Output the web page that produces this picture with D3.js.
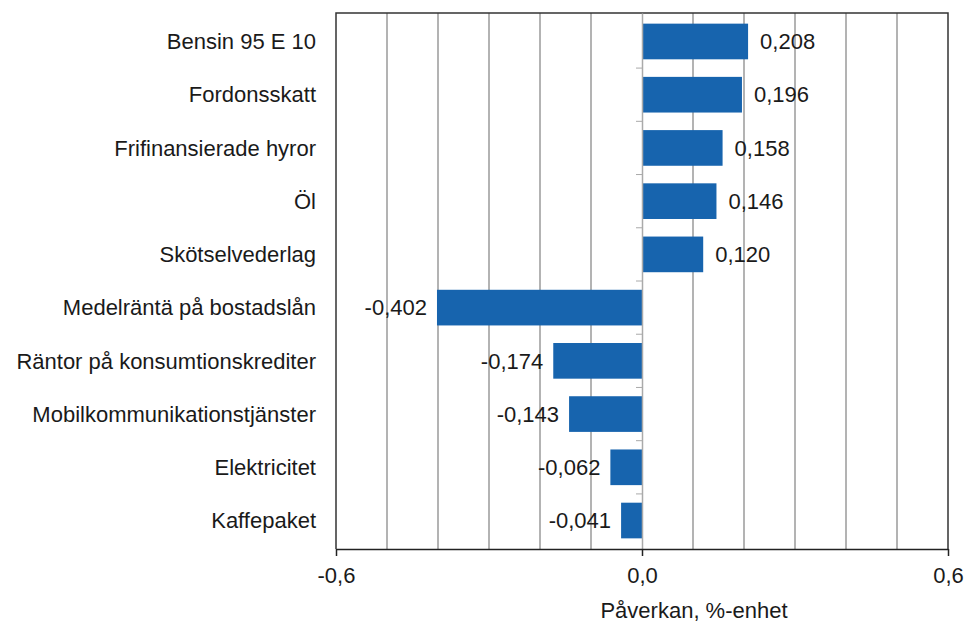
<!DOCTYPE html>
<html>
<head>
<meta charset="utf-8">
<script src="https://cdn.jsdelivr.net/npm/d3@7"></script>
<style>
  body { margin: 0; background: #fff; }
  text { font-family: "Liberation Sans", Arial, sans-serif; fill: #1a1a1a; }
</style>
</head>
<body>
<div id="chart"></div>
<script>
// data
const categories = ['Bensin 95 E 10', 'Fordonsskatt', 'Frifinansierade hyror', 'Öl', 'Skötselvederlag',
    'Medelräntä på bostadslån', 'Räntor på konsumtionskrediter', 'Mobilkommunikationstjänster',
    'Elektricitet', 'Kaffepaket'];
const values = [0.208, 0.196, 0.158, 0.146, 0.120, -0.402, -0.174, -0.143, -0.062, -0.041];
const xTickValues = [-0.6, 0, 0.6];
const xTickLabels = ['-0,6', '0,0', '0,6'];
const xTitle = 'Påverkan, %-enhet';

var margin = {top: 13, right: 20, bottom: 74, left: 336},
    width = 968 - margin.left - margin.right,
    height = 623 - margin.top - margin.bottom;

const fontSize = '22px';

const svg = d3.select('#chart')
    .append('svg')
    .attr('width', 968)
    .attr('height', 623)
    .append('g')
    .attr('transform', 'translate(' + margin.left + ',' + margin.top + ')');

const xScale = d3.scaleLinear()
    .domain([-0.6, 0.6])
    .range([0, width]);

const yScale = d3.scaleBand()
    .domain(categories)
    .range([0, height])
    .paddingInner(0.33)
    .paddingOuter(0.2);

const data = categories.map((c, i) => ({name: c, value: values[i]}));

// grid lines every 0.1
const gridVals = d3.range(-5, 6).map(d => d / 10).filter(d => d !== 0);
svg.append('g')
    .selectAll('line')
    .data(gridVals)
    .join('line')
    .attr('x1', d => xScale(d))
    .attr('x2', d => xScale(d))
    .attr('y1', 0)
    .attr('y2', height)
    .attr('stroke', '#9a9a9a')
    .attr('stroke-width', 1.5);

// frame (left, top, right)
svg.append('path')
    .attr('d', `M0,${height}V0H${width}V${height}`)
    .attr('fill', 'none')
    .attr('stroke', '#333')
    .attr('stroke-width', 1.5);

// bars
svg.append('g')
    .selectAll('rect')
    .data(data)
    .join('rect')
    .attr('x', d => xScale(Math.min(0, d.value)))
    .attr('width', d => Math.abs(xScale(d.value) - xScale(0)))
    .attr('y', d => yScale(d.name))
    .attr('height', yScale.bandwidth())
    .attr('fill', '#1764ae');

// category axis at zero
const yAxis = d3.axisLeft(yScale)
    .tickSizeInner(6)
    .tickSizeOuter(0)
    .tickFormat('');
const yAxisG = svg.append('g')
    .attr('transform', `translate(${xScale(0)},0)`)
    .call(yAxis);
yAxisG.select('.domain').attr('stroke', '#aaa').attr('stroke-width', 1.5);
// ticks sit between bands
yAxisG.selectAll('.tick')
    .attr('transform', d => `translate(0,${yScale(d) + yScale.bandwidth() + yScale.step() * yScale.paddingInner() / 2})`);
yAxisG.selectAll('.tick line').attr('stroke', '#aaa');
yAxisG.selectAll('.tick')
    .filter(d => d === categories[categories.length - 1])
    .remove();

// category labels
svg.append('g')
    .selectAll('text')
    .data(data)
    .join('text')
    .attr('x', -20)
    .attr('y', d => yScale(d.name) + yScale.bandwidth() / 2)
    .attr('dy', '0.35em')
    .attr('text-anchor', 'end')
    .style('font-size', fontSize)
    .text(d => d.name);

// value labels
svg.append('g')
    .selectAll('text')
    .data(data)
    .join('text')
    .attr('x', d => d.value >= 0 ? xScale(d.value) + 12 : xScale(d.value) - 10)
    .attr('y', d => yScale(d.name) + yScale.bandwidth() / 2)
    .attr('dy', '0.35em')
    .attr('text-anchor', d => d.value >= 0 ? 'start' : 'end')
    .style('font-size', fontSize)
    .text(d => d3.format('.3f')(d.value).replace('.', ',').replace('−', '-'));

// x axis
const xAxis = d3.axisBottom(xScale)
    .tickValues(xTickValues)
    .tickSizeInner(7)
    .tickSizeOuter(0)
    .tickPadding(11)
    .tickFormat((d, i) => xTickLabels[i]);
const xAxisG = svg.append('g')
    .attr('transform', `translate(0,${height})`)
    .call(xAxis);
xAxisG.select('.domain').attr('stroke', '#222').attr('stroke-width', 1.5);
xAxisG.selectAll('.tick line').attr('stroke', '#222').attr('stroke-width', 1.5);
xAxisG.selectAll('.tick text')
    .style('font-size', fontSize)
    .style('font-family', '"Liberation Sans", Arial, sans-serif')
    .attr('fill', '#1a1a1a');

svg.append('text')
    .attr('x', xScale(0) + 52)
    .attr('y', height + 69)
    .attr('text-anchor', 'middle')
    .style('font-size', fontSize)
    .text(xTitle);
</script>
</body>
</html>
